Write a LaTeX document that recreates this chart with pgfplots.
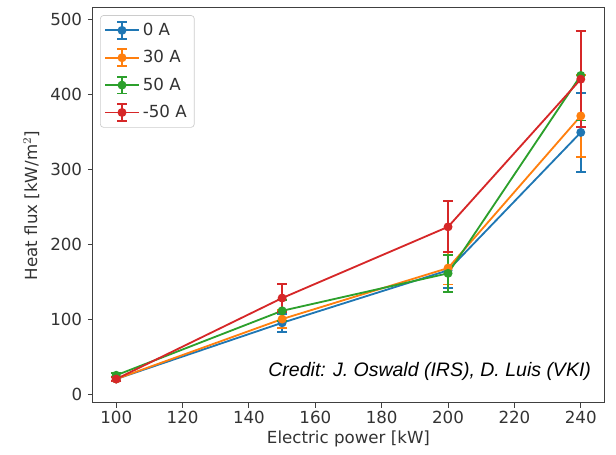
\documentclass[border=0pt]{standalone}
\usepackage{pgfplots}
\pgfplotsset{compat=1.18}
\usepackage{fontspec}
\setmainfont{DejaVu Sans}
\newfontfamily\credfont{Liberation Sans}
\definecolor{c0}{HTML}{1F77B4}
\definecolor{c1}{HTML}{FF7F0E}
\definecolor{c2}{HTML}{2CA02C}
\definecolor{c3}{HTML}{D62728}
\begin{document}
\fontsize{10pt}{12pt}\selectfont
\begin{tikzpicture}
\begin{axis}[
  name=ax,
  scale only axis,
  width=306.6pt, height=237pt,
  xmin=93, xmax=247, ymin=-12, ymax=515,
  xtick={100,120,...,240}, ytick={0,100,...,500},
  tick align=outside, tick pos=left,
  major tick length=3pt,
  /pgf/number format/assume math mode=true,
  ticklabel style={font=\fontsize{10pt}{12pt}\selectfont, text=black!80},
  xticklabel style={yshift=1.5pt},
  label style={font=\fontsize{10pt}{12pt}\selectfont, text=black!80},
  xlabel={Electric power [kW]},
  ylabel={Heat flux [kW/m$^2$]},
  xlabel style={at={(rel axis cs:0.5,0)}, anchor=center, yshift=-21.5pt},
  ylabel style={at={(rel axis cs:0,0.5)}, anchor=center, yshift=37pt},
  axis line style={black!75, line width=0.6pt},
  every tick/.style={black!75, line width=0.6pt},
  legend style={draw=black!20, rounded corners=2pt, font=\fontsize{10pt}{12pt}\selectfont, text=black!80, at={(0.0137,0.982)}, anchor=north west, row sep=3.5pt, inner sep=2.5pt},
  legend cell align=left,
  legend image code/.code={
    \draw[#1, mark=none, line width=1.1pt] (0cm,0cm) -- (0.7cm,0cm);
    \draw[#1, mark=none, line width=1.1pt] (0.35cm,-5pt) -- (0.35cm,5pt);
    \draw[#1, mark=none, line width=1.1pt] (0.35cm,-5pt) ++(-3pt,0) -- ++(6pt,0);
    \draw[#1, mark=none, line width=1.1pt] (0.35cm,5pt) ++(-3pt,0) -- ++(6pt,0);
    \fill[#1] (0.35cm,0cm) circle (2.1pt);
  },
  every axis plot/.append style={line width=1.1pt, mark=*, mark size=2.1pt,
    error bars/y dir=both, error bars/y explicit,
    error bars/error bar style={line width=1.1pt},
    error bars/error mark options={rotate=90, mark size=3pt, line width=1.1pt}},
]
\addplot[c0, mark options={fill=c0}] table[x=x, y=y, y error=e] {
x y e
100 20 3
150 95 12
200 165 24
240 349 53
};
\addlegendentry{0 A}
\addplot[c1, mark options={fill=c1}] table[x=x, y=y, y error=e] {
x y e
100 20 3
150 100 12
200 168 22
240 371 55
};
\addlegendentry{30 A}
\addplot[c2, mark options={fill=c2}] table[x=x, y=y, y error=e] {
x y e
100 25 3
150 111 14
200 161 25
240 425 60
};
\addlegendentry{50 A}
\addplot[c3, mark options={fill=c3}] table[x=x, y=y, y error=e] {
x y e
100 20 3
150 128 19
200 223 34
240 420 64
};
\addlegendentry{-50 A}
\node[anchor=base east, font=\credfont\itshape\fontsize{11.7pt}{14pt}\selectfont] at (rel axis cs:0.986,0.066) {Credit: J. Oswald (IRS), D. Luis (VKI)};
\end{axis}
\pgfresetboundingbox
\useasboundingbox ([xshift=-55.8pt,yshift=-31.2pt]ax.south west) rectangle ([xshift=7.2pt,yshift=4.8pt]ax.north east);
\end{tikzpicture}
\end{document}
